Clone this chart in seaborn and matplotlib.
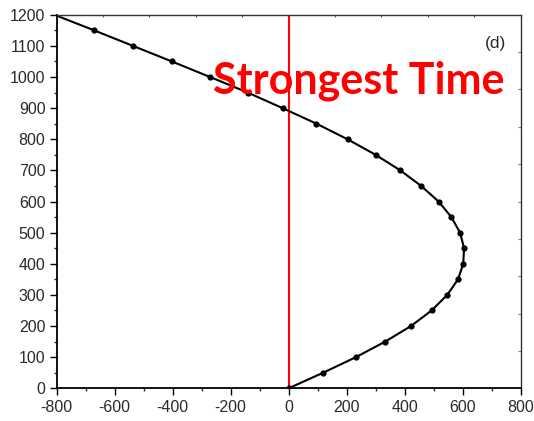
import matplotlib
matplotlib.use("Agg")
import matplotlib.pyplot as plt
from matplotlib.ticker import MultipleLocator, FixedLocator, NullFormatter
import seaborn as sns
import pandas as pd

# Profile: depth (y) versus value (x)
depth = [0, 50, 100, 150, 200, 250, 300, 350, 400, 450, 500, 550, 600,
         650, 700, 750, 800, 850, 900, 950, 1000, 1050, 1100, 1150, 1200]
value = [0, 119, 232, 333, 422, 493, 547, 584, 602, 605, 591, 561, 517,
         457, 385, 300, 203, 96, -21, -141, -271, -403, -537, -671, -808]

x_ticks = [-800, -600, -400, -200, 0, 200, 400, 600, 800]
y_ticks = [0, 100, 200, 300, 400, 500, 600, 700, 800, 900, 1000, 1100, 1200]
top_ticks = [-640, -480, -320, -160, 0, 160, 320, 480, 640]
right_ticks = [120, 240, 360, 480, 600, 720, 840, 960, 1080]

df = pd.DataFrame({"value": value, "depth": depth})

sns.set_style("ticks")
plt.rcParams["font.family"] = ["Liberation Sans", "DejaVu Sans"]
plt.rcParams["axes.unicode_minus"] = False

fig = plt.figure(figsize=(5.34, 4.21), dpi=100)
ax = fig.add_axes([0.106, 0.0777, 0.869, 0.8873])

sns.lineplot(data=df, x="value", y="depth", sort=False, estimator=None,
             color="black", linewidth=1.5, marker="o", markersize=4.5,
             markeredgewidth=0, ax=ax, clip_on=True)

ax.axvline(0, color="red", linewidth=1.5, zorder=1)

ax.set_xlim(-800, 800)
ax.set_ylim(0, 1200)
ax.set_xticks(x_ticks)
ax.set_yticks(y_ticks)
ax.xaxis.set_minor_locator(MultipleLocator(100))
ax.yaxis.set_minor_locator(MultipleLocator(50))
ax.set_xlabel("")
ax.set_ylabel("")

ax.tick_params(axis="both", which="major", direction="out", length=5,
               width=1.0, labelsize=11.5, colors="black",
               labelcolor="#2a2a2a", top=False, right=False)
ax.tick_params(axis="y", which="major", pad=3)
ax.tick_params(axis="x", which="major", pad=3.5)
ax.tick_params(axis="both", which="minor", direction="out", length=2.5,
               width=1.0, top=False, right=False)

for side in ("left", "bottom"):
    ax.spines[side].set_linewidth(1.3)
    ax.spines[side].set_color("black")
for side in ("top", "right"):
    ax.spines[side].set_visible(True)
    ax.spines[side].set_linewidth(1.0)
    ax.spines[side].set_color("#333333")

# faint inward ticks on the mirrored top and right axes
sec_x = ax.secondary_xaxis("top")
sec_x.xaxis.set_major_locator(FixedLocator(top_ticks))
sec_x.xaxis.set_major_formatter(NullFormatter())
sec_x.tick_params(direction="in", length=1.5, width=0.8, colors="#555555")
sec_x.spines["top"].set_visible(False)
sec_y = ax.secondary_yaxis("right")
sec_y.yaxis.set_major_locator(FixedLocator(right_ticks))
sec_y.yaxis.set_major_formatter(NullFormatter())
sec_y.tick_params(direction="in", length=2, width=0.8, colors="#777777")
sec_y.spines["right"].set_visible(False)

ax.text(0.337, 0.790, "Strongest Time", transform=ax.transAxes,
        ha="left", va="baseline", color="red", fontsize=31,
        fontweight="bold", family=["Lato", "DejaVu Sans"], zorder=5)
ax.text(0.946, 0.924, "(d)", transform=ax.transAxes, ha="center",
        va="center", fontsize=12.5, color="#2a2a2a")

fig.savefig("out.png", dpi=100)
